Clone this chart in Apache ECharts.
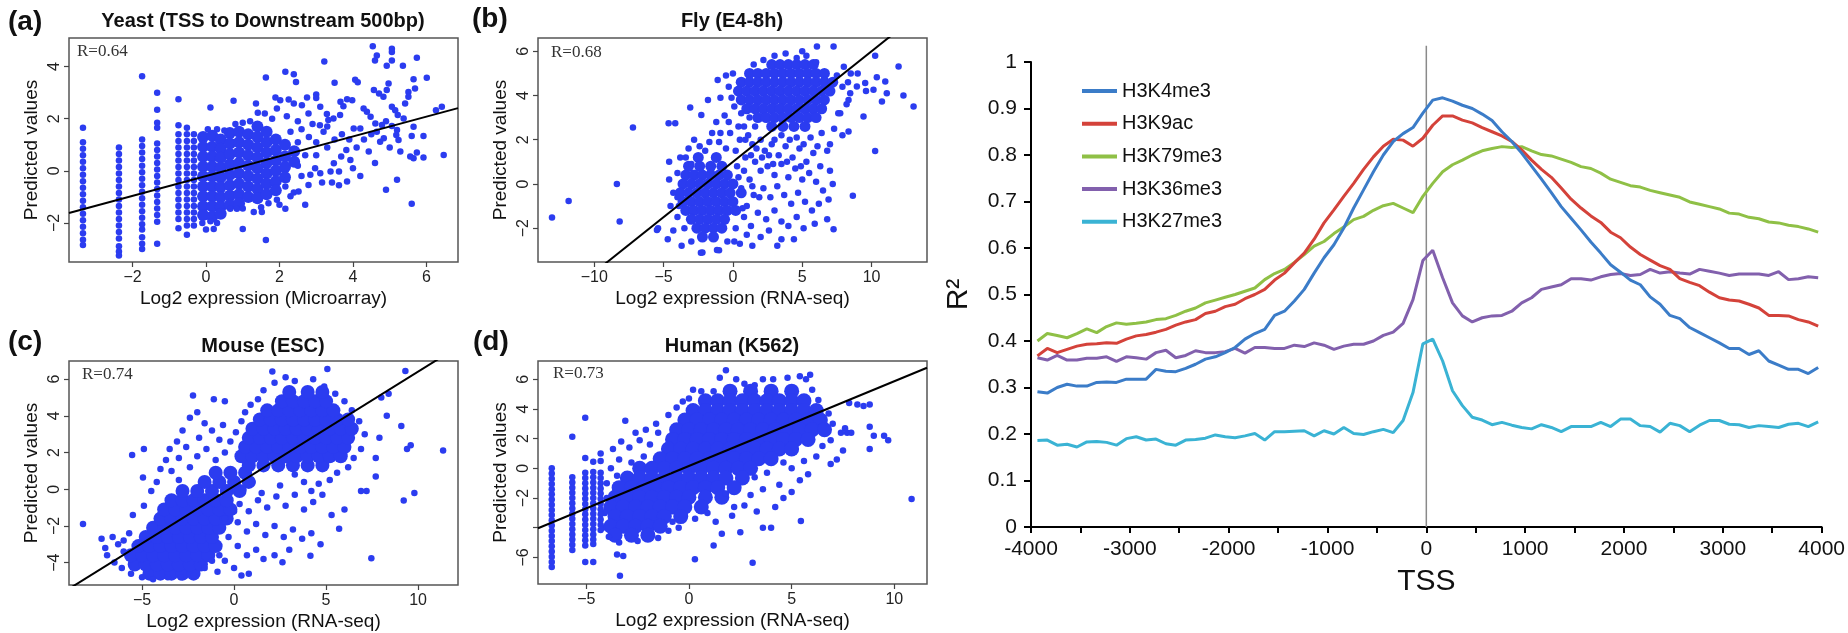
<!DOCTYPE html>
<html><head><meta charset="utf-8">
<script src="https://cdn.jsdelivr.net/npm/echarts@6/dist/echarts.min.js"></script>
<style>html,body{margin:0;padding:0;background:#fff}#c{width:1848px;height:633px}</style>
</head><body><div id="c"></div><script>
// ---------------- DATA ----------------
// Panel (a) Yeast
const yeastStripeX = [-3.35, -2.37, -1.74, -1.33, -0.75, -0.52, -0.33];
const yeastStripeY = [
 [1.65,1.1,0.85,0.6,0.35,0.1,-0.15,-0.4,-0.65,-0.9,-1.15,-1.4,-1.65,-1.9,-2.15,-2.4,-2.65,-2.85],
 [0.9,0.65,0.4,0.15,-0.1,-0.35,-0.6,-0.85,-1.1,-1.35,-1.6,-1.85,-2.1,-2.35,-2.6,-2.9,-3.1,-3.25],
 [3.63,1.2,0.95,0.7,0.45,0.2,-0.05,-0.3,-0.55,-0.8,-1.05,-1.3,-1.55,-1.8,-2.05,-2.25,-2.55,-2.8,-3.0],
 [3.0,2.35,1.85,1.65,1.05,0.8,0.55,0.3,0.05,-0.2,-0.45,-0.7,-0.95,-1.2,-1.45,-1.7,-1.95,-2.8],
 [2.75,1.75,1.4,1.15,0.9,0.65,0.4,0.15,-0.1,-0.35,-0.6,-0.85,-1.1,-1.35,-1.6,-1.85,-2.2],
 [1.65,1.4,1.15,0.9,0.65,0.4,0.15,-0.1,-0.35,-0.6,-0.85,-1.1,-1.35,-1.6,-1.85,-2.1,-2.45],
 [1.4,1.15,0.9,0.65,0.4,0.15,-0.1,-0.35,-0.6,-0.85,-1.1,-1.35,-1.6,-1.85,-2.1]
];
const yeastCore = [[-0.08,1.3],[-0.08,0.92],[-0.08,0.54],[-0.08,0.16],[-0.08,-0.22],[-0.08,-0.6],[-0.08,-0.98],[-0.08,-1.36],[-0.08,-1.7],
[0.17,1.35],[0.17,0.92],[0.17,0.54],[0.17,0.16],[0.17,-0.22],[0.17,-0.6],[0.17,-0.98],[0.17,-1.36],[0.17,-1.75],
[0.4,1.2],[0.4,0.85],[0.4,0.5],[0.4,0.12],[0.4,-0.25],[0.4,-0.62],[0.4,-1.0],[0.4,-1.38],[0.4,-1.65],
[0.65,1.45],[0.65,1.05],[0.65,0.65],[0.65,0.25],[0.65,-0.15],[0.65,-0.55],[0.65,-0.95],[0.65,-1.3],
[0.9,1.5],[0.9,1.1],[0.9,0.7],[0.9,0.3],[0.9,-0.1],[0.9,-0.5],[0.9,-0.9],[0.9,-1.25],
[1.15,1.4],[1.15,1.0],[1.15,0.6],[1.15,0.2],[1.15,-0.2],[1.15,-0.6],[1.15,-1.0],
[1.4,1.7],[1.4,1.3],[1.4,0.9],[1.4,0.5],[1.4,0.1],[1.4,-0.3],[1.4,-0.7],[1.4,-1.05],
[1.65,1.5],[1.65,1.1],[1.65,0.7],[1.65,0.3],[1.65,-0.1],[1.65,-0.5],[1.65,-0.9],
[1.9,1.2],[1.9,0.8],[1.9,0.4],[1.9,0.0],[1.9,-0.4],[1.9,-0.75],
[2.15,1.0],[2.15,0.55],[2.15,0.15],[2.15,-0.25],[2.4,0.75],[2.4,0.35]];
const yeastPts = [[4.54,4.78],[5.06,4.69],[5.06,4.56],[4.65,4.43],[4.6,4.24],[5.06,4.24],[5.74,4.34],[4.92,4.03],[5.36,4.03],[3.22,4.2],[2.16,3.8],[2.39,3.71],[1.63,3.58],[6.01,3.57],[5.65,3.52],[4.06,3.5],[4.13,3.4],[3.5,3.38],[2.45,3.41],[4.57,3.1],[4.71,2.97],[4.92,3.1],[4.83,2.84],[4.97,3.35],[5.51,3.03],[5.69,3.16],[5.51,2.84],[3.0,2.93],[3.0,2.8],[2.75,2.82],[3.84,2.75],[3.98,2.71],[0.75,2.69],[1.36,2.59],[1.89,2.82],[2.02,2.71],[2.25,2.74],[2.39,2.59],[2.61,2.52],[3.66,2.65],[3.74,2.48],[5.42,2.59],[5.06,2.46],[5.15,2.33],[6.26,2.33],[6.42,2.46],[0.12,2.43],[1.41,2.23],[1.93,2.39],[3.11,2.46],[2.79,2.2],[3.29,2.18],[4.38,2.27],[4.29,2.39],[4.48,2.08],[5.22,2.14],[5.38,2.01],[3.33,1.95],[3.47,2.01],[3.65,2.14],[4.02,1.63],[4.2,1.63],[4.61,1.82],[4.79,1.76],[4.65,1.5],[5.06,1.72],[5.2,1.57],[5.65,1.69],[5.92,1.34],[5.6,1.34],[5.24,1.18],[5.18,1.38],[4.84,1.25],[4.74,1.12],[4.43,0.74],[5.29,0.74],[5.56,0.55],[5.74,0.7],[5.92,0.51],[5.65,0.48],[6.47,0.61],[3.93,0.42],[3.82,0.8],[3.68,0.55],[3.48,0.29],[3.39,-0.03],[3.62,-0.03],[3.84,-0.41],[3.43,-0.45],[3.62,-0.55],[3.16,-0.45],[3.11,-0.09],[2.97,0.1],[2.84,-0.15],[2.79,-0.54],[5.2,-0.34],[4.9,-0.73],[5.6,-1.26],[2.16,-1.46],[1.0,-2.23],[1.63,-2.66],[0.21,-2.23],[0.0,-2.25],[0.12,-1.94],[1.3,-1.58],[1.52,-1.58],[0.84,-1.46],[0.66,-1.46],[2.39,-0.83],[2.52,-0.79],[2.3,-0.98],[1.93,-1.11],[1.7,-1.24],[2.16,-0.6],[2.2,-0.34],[2.6,1.6],[2.8,1.3],[3.0,1.1],[3.2,1.5],[2.5,1.1],[2.7,0.6],[3.0,0.6],[3.3,0.9],[3.5,1.2],[3.7,1.4],[3.9,1.2],[2.5,0.2],[2.6,-0.2],[2.9,1.8],[3.1,1.75],[2.3,1.5],[2.5,1.9],[2.2,2.1],[1.8,2.0],[1.6,2.2],[1.2,1.9],[1.0,1.85],[0.8,1.8],[4.1,0.9],[4.3,1.2],[4.0,0.1],[4.2,-0.2],[0.5,1.55],[0.3,1.6],[0.05,1.6],[1.5,-1.4],[1.0,-1.45],[2.7,-1.3],[2.0,-1.3],[3.3,1.7],[4.5,1.4],[4.9,1.9],[5.0,0.9],[4.6,0.3],[0.3,-2.0],[-0.1,-2.0]];
const yeastFit = [-0.2, 0.38];

// Panel (b) Fly
const flyCore = [[2.8,5.4],[3.4,5.4],[4.0,5.4],[4.6,5.4],[5.2,5.4],[5.8,5.4],
[1.2,5.0],[1.8,5.0],[2.4,5.0],[3.0,5.0],[3.6,5.0],[4.2,5.0],[4.8,5.0],[5.4,5.0],[6.0,5.0],[6.6,5.0],
[0.6,4.6],[1.2,4.6],[1.8,4.6],[2.4,4.6],[3.0,4.6],[3.6,4.6],[4.2,4.6],[4.8,4.6],[5.4,4.6],[6.0,4.6],[6.6,4.6],[7.2,4.6],
[0.4,4.2],[1.0,4.2],[1.6,4.2],[2.2,4.2],[2.8,4.2],[3.4,4.2],[4.0,4.2],[4.6,4.2],[5.2,4.2],[5.8,4.2],[6.4,4.2],[7.0,4.2],
[0.6,3.8],[1.2,3.8],[1.8,3.8],[2.4,3.8],[3.0,3.8],[3.6,3.8],[4.2,3.8],[4.8,3.8],[5.4,3.8],[6.0,3.8],[6.6,3.8],
[1.0,3.4],[1.6,3.4],[2.2,3.4],[2.8,3.4],[3.4,3.4],[4.0,3.4],[4.6,3.4],[5.2,3.4],[5.8,3.4],[6.4,3.4],
[1.8,3.0],[2.4,3.0],[3.0,3.0],[3.6,3.0],[4.2,3.0],[4.8,3.0],[5.4,3.0],[6.0,3.0],
[2.8,2.6],[3.6,2.6],[4.4,2.6],[5.2,2.6],
[-2.5,1.2],[-1.2,1.2],[-3.2,0.8],[-2.4,0.8],[-1.6,0.8],[-0.8,0.8],
[-3.4,0.4],[-2.8,0.4],[-2.2,0.4],[-1.6,0.4],[-1.0,0.4],[-0.4,0.4],
[-3.6,0],[-3.0,0],[-2.4,0],[-1.8,0],[-1.2,0],[-0.6,0],[0,0],
[-3.8,-0.4],[-3.2,-0.4],[-2.6,-0.4],[-2.0,-0.4],[-1.4,-0.4],[-0.8,-0.4],[-0.2,-0.4],[0.6,-0.4],
[-3.6,-0.8],[-3.0,-0.8],[-2.4,-0.8],[-1.8,-0.8],[-1.2,-0.8],[-0.6,-0.8],[0,-0.8],
[-3.4,-1.2],[-2.8,-1.2],[-2.2,-1.2],[-1.6,-1.2],[-1.0,-1.2],[-0.4,-1.2],[0.2,-1.2],
[-3.0,-1.6],[-2.4,-1.6],[-1.8,-1.6],[-1.2,-1.6],[-0.6,-1.6],
[-2.6,-2.0],[-2.0,-2.0],[-1.4,-2.0],[-0.8,-2.0],[-2.2,-2.4],[-1.4,-2.4]];
const flyPts = [[0.2,1.5],[0.5,2.0],[0.8,2.6],[1.1,2.2],[1.4,1.8],[0.3,0.8],[0.9,1.2],[1.6,2.6],[2.0,2.0],[1.2,3.0],[0.6,3.2],[-0.2,2.3],[-0.5,1.6],[-1.0,1.9],[-1.5,2.3],[-2.0,1.5],[-1.2,2.8],[-0.6,3.1],[0.1,3.5],[-0.3,2.8],
[2.3,1.5],[2.8,1.8],[3.3,1.3],[3.8,1.7],[4.3,1.2],[4.8,1.6],[5.3,1.0],[5.8,1.4],[6.3,0.8],[2.5,0.8],[3.0,0.4],[3.5,0.9],[4.0,0.3],[4.5,0.7],[5.0,0.2],[5.5,0.5],[6.0,0.1],[6.5,-0.3],[2.2,-0.2],[2.7,-0.6],[3.2,-0.1],[3.7,-0.5],[4.2,-0.9],[4.7,-0.4],[5.2,-0.8],[5.7,-1.2],[6.2,-0.9],[1.5,-0.5],[1.0,-1.0],[1.8,-1.3],[2.4,-1.6],[3.0,-1.2],[3.5,-1.7],[4.0,-1.9],[4.6,-1.5],[5.1,-2.0],[6.9,-0.7],[7.0,0.6],[6.8,1.5],[7.3,2.5],[7.6,3.2],[7.9,2.2],[8.2,3.6],[1.2,0.2],[0.6,-0.2],[2.0,0.6],[1.6,1.0],[0.8,-1.5],[0.2,-2.0],[-0.4,-2.6],[0.5,-2.7],[1.0,-2.3],[1.4,-2.8],
[-1.0,-3.0],[-2.2,-3.1],[-3.0,-2.6],[-3.5,-2.0],[-4.0,-1.5],[-4.5,-1.0],[-4.3,-2.1],[-4.7,-2.5],[-3.7,-2.8],[-4.0,0.5],[-3.8,1.2],[-3.2,1.6],[-2.8,2.0],[-3.0,0.9],[-4.3,-0.4],[-4.6,0.2],[-5.4,-2.0],[-4.6,1.0],[-4.64,2.75],[-4.16,2.75],[-3.08,3.46],[-2.28,3.12],[-1.8,3.8],[-0.9,3.9],[-0.3,4.4],[-0.1,3.9],[-1.1,4.7],[-0.5,4.9],[0.0,5.0],[1.5,5.4],[2.2,5.6],[3.0,5.8],[3.8,5.9],[4.6,5.7],[5.3,5.8],[6.0,5.5],[6.06,6.22],[7.26,6.22],[5.0,6.0],[7.5,4.9],[7.9,4.4],[8.0,5.3],[8.5,5.0],[8.3,4.6],[10.26,5.8],[11.95,5.31],[12.3,4.0],[13.03,3.5],[9.42,3.05],[10.26,1.49],[8.65,-0.53],[7.26,-2.05],[-7.21,2.55],[-8.37,0],[-8.17,-1.7],[-11.85,-0.77],[-13.05,-1.52],[-5.48,-2.08],[-2.31,-3.11],[-1.15,-2.99],[10.38,4.83],[10.14,4.26],[10.75,3.73],[11.1,4.1],[10.99,4.63],[9.54,4.56],[8.94,4.41],[8.46,4.1],[8.34,3.8],[8.34,2.37],[7.74,3.2],[9.6,4.2],[9.0,5.0],[7.0,1.8],[6.4,2.3],[7.2,0.0],[6.8,-1.6],[5.9,-1.8],[3.5,-2.5],[2.0,-2.4],[4.4,-2.5],
[0.4,0.3],[0.8,0.6],[1.3,1.3],[1.7,1.6],[2.1,1.2],[2.6,1.3],[3.0,2.0],[3.5,2.2],[4.1,2.0],[4.6,2.1],[5.1,1.8],[5.6,2.1],[6.1,1.7],[0.9,2.0],[0.4,2.6],[-0.9,2.3],[-1.7,1.9],[-2.4,1.7],[-3.4,1.2],[-4.0,-0.6],[-3.9,-1.0],[1.4,-0.1],[1.9,-0.6],[2.9,0.9],[3.9,1.0],[4.9,0.8],[0.7,-1.1],[1.3,-1.9],[2.6,-2.1],[3.2,-2.8],[0.1,-2.6]];
const flyFit = [1.0, 0.5];

// Panel (c) Mouse
const mouseCore = [[-4.6,-4.6],[-4.0,-4.6],[-3.4,-4.6],[-2.8,-4.6],[-2.2,-4.6],
[-5.4,-4.1],[-4.8,-4.1],[-4.2,-4.1],[-3.6,-4.1],[-3.0,-4.1],[-2.4,-4.1],[-1.8,-4.1],
[-5.6,-3.6],[-5.0,-3.6],[-4.4,-3.6],[-3.8,-3.6],[-3.2,-3.6],[-2.6,-3.6],[-2.0,-3.6],[-1.4,-3.6],
[-5.2,-3.1],[-4.6,-3.1],[-4.0,-3.1],[-3.4,-3.1],[-2.8,-3.1],[-2.2,-3.1],[-1.6,-3.1],[-1.0,-3.1],
[-4.8,-2.6],[-4.2,-2.6],[-3.6,-2.6],[-3.0,-2.6],[-2.4,-2.6],[-1.8,-2.6],[-1.2,-2.6],
[-4.4,-2.1],[-3.8,-2.1],[-3.2,-2.1],[-2.6,-2.1],[-2.0,-2.1],[-1.4,-2.1],[-0.8,-2.1],
[-4.0,-1.6],[-3.4,-1.6],[-2.8,-1.6],[-2.2,-1.6],[-1.6,-1.6],[-1.0,-1.6],[-0.4,-1.6],
[-3.8,-1.1],[-3.2,-1.1],[-2.6,-1.1],[-2.0,-1.1],[-1.4,-1.1],[-0.8,-1.1],[-0.2,-1.1],
[-3.4,-0.6],[-2.8,-0.6],[-2.2,-0.6],[-1.6,-0.6],[-1.0,-0.6],[-0.4,-0.6],
[-2.8,-0.1],[-2.0,-0.1],[-1.2,-0.1],[-0.4,-0.1],[0.3,-0.1],
[-1.6,0.4],[-0.8,0.4],[0.0,0.4],[0.8,0.4],[-1.0,0.9],[-0.2,0.9],[0.6,0.9],
[0.8,1.3],[1.6,1.3],[2.4,1.3],[3.2,1.3],[4.0,1.3],[4.8,1.3],
[0.4,1.8],[1.0,1.8],[1.6,1.8],[2.2,1.8],[2.8,1.8],[3.4,1.8],[4.0,1.8],[4.6,1.8],[5.2,1.8],[5.8,1.8],
[0.6,2.3],[1.2,2.3],[1.8,2.3],[2.4,2.3],[3.0,2.3],[3.6,2.3],[4.2,2.3],[4.8,2.3],[5.4,2.3],[6.0,2.3],
[0.8,2.8],[1.4,2.8],[2.0,2.8],[2.6,2.8],[3.2,2.8],[3.8,2.8],[4.4,2.8],[5.0,2.8],[5.6,2.8],[6.2,2.8],
[1.0,3.3],[1.6,3.3],[2.2,3.3],[2.8,3.3],[3.4,3.3],[4.0,3.3],[4.6,3.3],[5.2,3.3],[5.8,3.3],[6.4,3.3],
[1.4,3.8],[2.0,3.8],[2.6,3.8],[3.2,3.8],[3.8,3.8],[4.4,3.8],[5.0,3.8],[5.6,3.8],[6.2,3.8],
[1.8,4.3],[2.4,4.3],[3.0,4.3],[3.6,4.3],[4.2,4.3],[4.8,4.3],[5.4,4.3],
[2.6,4.8],[3.2,4.8],[3.8,4.8],[4.4,4.8],[5.0,4.8],[3.0,5.3],[4.0,5.3],[4.8,5.3]];
const mousePts = [[-8.21,-1.89],[-5.54,1.87],[-4.9,2.2],[-4.95,0.64],[-2.23,5.11],[-1.1,4.9],[-0.5,4.8],[2.08,6.42],[5.07,6.55],[9.31,6.45],[11.36,2.11],[9.09,3.45],[9.4,2.2],[9.6,2.4],[9.22,-0.62],[9.8,-0.2],[7.46,-3.76],[6.0,-1.1],[5.71,-2.16],[4.15,-3.62],[2.63,-3.98],[0.8,-4.6],[6.9,-0.1],[7.2,-0.1],[7.7,0.7],[8.3,4.0],[8.4,5.2],[8.0,5.0],[7.9,2.8],[7.7,1.7],
[-7.2,-2.7],[-6.9,-3.6],[-6.6,-2.6],[-6.3,-3.0],[-6.0,-3.4],[-6.5,-4.0],[-6.1,-4.3],[-5.7,-2.4],[-6.0,-2.8],[-7.0,-3.2],[-5.6,-4.6],[-5.0,-4.8],[-4.4,-4.9],[-3.6,-4.8],[-2.9,-4.8],[-2.2,-4.7],[-1.6,-4.3],[-1.2,-3.9],[-0.8,-3.6],
[-5.5,-1.4],[-4.9,-0.9],[-4.5,-0.1],[-4.2,0.4],[-4.0,1.1],[-3.7,1.6],[-3.5,2.2],[-3.1,2.6],[-2.8,3.2],[-2.4,3.9],[-2.0,4.2],[-1.6,3.6],[-1.2,3.2],[-0.8,2.7],[-0.6,3.5],[-1.9,2.8],[-2.6,2.3],[-3.0,1.7],[-3.4,1.0],[-3.0,0.5],[-2.4,1.2],[-2.0,1.8],[-1.5,2.2],[-1.0,1.6],[-0.5,2.0],[-0.2,2.6],[0.1,3.1],[0.4,3.7],[0.6,4.2],[0.9,4.6],[1.3,4.9],[1.6,5.4],[2.2,5.8],[2.8,6.1],[3.3,5.9],[4.3,6.0],[4.9,5.6],[5.5,5.2],[6.0,4.8],[6.4,4.3],[6.8,3.7],[7.1,3.0],[6.9,2.2],[6.5,1.7],[6.2,1.2],[5.6,0.9],[5.2,0.5],[4.6,0.3],[4.2,-0.1],[3.8,0.4],[3.3,0.8],
[0.3,-0.8],[0.8,-1.2],[1.3,-0.6],[1.8,-1.0],[2.3,-0.4],[2.8,-0.9],[3.3,-0.3],[3.8,-1.1],[4.3,-0.7],[4.8,-0.3],[5.3,-1.4],[0.2,-1.8],[0.7,-2.3],[1.2,-1.9],[1.7,-2.5],[2.2,-2.0],[2.7,-2.6],[3.2,-2.2],[3.7,-2.7],[4.2,-2.4],[4.7,-3.0],[-0.3,-2.6],[0.2,-3.1],[0.7,-3.6],[1.2,-3.3],[1.6,-3.8],[2.2,-3.6],[3.0,-3.3],[-0.5,-3.9],[0.0,-4.3],[-0.9,-4.5],[0.4,-4.7],[1.5,-0.2],[2.5,0.2],[0.0,-1.2],[-0.5,-1.6],[0.5,0.0],[1.0,0.4]];
const mouseFit = [0.17, 0.624];

// Panel (d) Human
const humanStripeX = [-6.68, -5.68, -5.05, -4.66, -4.3];
const humanStripeY = [
 [0.0,-0.35,-0.7,-1.05,-1.4,-1.75,-2.1,-2.45,-2.8,-3.15,-3.5,-3.85,-4.2,-4.55,-4.9,-5.25,-5.6,-5.95,-6.3,-6.65],
 [2.13,-0.6,-0.95,-1.3,-1.65,-2.0,-2.35,-2.7,-3.05,-3.4,-3.75,-4.1,-4.45,-4.8,-5.15,-5.5],
 [3.4,0.7,-0.3,-0.65,-1.0,-1.35,-1.7,-2.05,-2.4,-2.75,-3.1,-3.45,-3.8,-4.15,-4.5,-4.85,-5.2,-6.3],
 [0.45,-0.25,-0.6,-0.95,-1.3,-1.65,-2.0,-2.35,-2.7,-3.05,-3.4,-3.75,-4.1,-4.45,-4.8,-5.1,-6.3],
 [1.0,0.5,-0.3,-0.65,-1.0,-1.35,-1.7,-2.05,-2.4,-2.75,-3.1,-3.45,-3.8,-4.15]
];
const humanCore = [[2.0,5.2],[3.0,5.2],[4.0,5.2],[5.0,5.2],
[0.8,4.55],[1.4,4.55],[2.0,4.55],[2.6,4.55],[3.2,4.55],[3.8,4.55],[4.4,4.55],[5.0,4.55],[5.6,4.55],
[0.2,3.9],[0.8,3.9],[1.4,3.9],[2.0,3.9],[2.6,3.9],[3.2,3.9],[3.8,3.9],[4.4,3.9],[5.0,3.9],[5.6,3.9],[6.2,3.9],
[-0.2,3.25],[0.4,3.25],[1.0,3.25],[1.6,3.25],[2.2,3.25],[2.8,3.25],[3.4,3.25],[4.0,3.25],[4.6,3.25],[5.2,3.25],[5.8,3.25],[6.4,3.25],
[-0.6,2.6],[0.0,2.6],[0.6,2.6],[1.2,2.6],[1.8,2.6],[2.4,2.6],[3.0,2.6],[3.6,2.6],[4.2,2.6],[4.8,2.6],[5.4,2.6],[6.0,2.6],[6.6,2.6],
[-0.8,1.95],[-0.2,1.95],[0.4,1.95],[1.0,1.95],[1.6,1.95],[2.2,1.95],[2.8,1.95],[3.4,1.95],[4.0,1.95],[4.6,1.95],[5.2,1.95],[5.8,1.95],
[-1.0,1.3],[-0.4,1.3],[0.2,1.3],[0.8,1.3],[1.4,1.3],[2.0,1.3],[2.6,1.3],[3.2,1.3],[3.8,1.3],[4.4,1.3],[5.0,1.3],
[-1.4,0.65],[-0.8,0.65],[-0.2,0.65],[0.4,0.65],[1.0,0.65],[1.6,0.65],[2.2,0.65],[2.8,0.65],[3.4,0.65],[4.0,0.65],
[-2.4,0],[-1.8,0],[-1.2,0],[-0.6,0],[0,0],[0.6,0],[1.2,0],[1.8,0],[2.4,0],[3.0,0],
[-3.0,-0.65],[-2.4,-0.65],[-1.8,-0.65],[-1.2,-0.65],[-0.6,-0.65],[0,-0.65],[0.6,-0.65],[1.2,-0.65],[1.8,-0.65],[2.6,-0.65],
[-3.4,-1.3],[-2.8,-1.3],[-2.2,-1.3],[-1.6,-1.3],[-1.0,-1.3],[-0.4,-1.3],[0.2,-1.3],[0.8,-1.3],[1.4,-1.3],[2.2,-1.3],
[-3.6,-1.95],[-3.0,-1.95],[-2.4,-1.95],[-1.8,-1.95],[-1.2,-1.95],[-0.6,-1.95],[0,-1.95],[0.8,-1.95],[1.6,-1.95],
[-3.8,-2.6],[-3.2,-2.6],[-2.6,-2.6],[-2.0,-2.6],[-1.4,-2.6],[-0.8,-2.6],[-0.2,-2.6],[0.6,-2.6],
[-3.6,-3.25],[-3.0,-3.25],[-2.4,-3.25],[-1.8,-3.25],[-1.2,-3.25],[-0.4,-3.25],
[-3.8,-3.9],[-3.2,-3.9],[-2.6,-3.9],[-2.0,-3.9],[-1.4,-3.9],[-3.6,-4.5],[-2.8,-4.5],[-2.0,-4.5]];
const humanPts = [[10.84,-2.07],[9.7,1.9],[9.5,2.2],[9.0,2.2],[8.8,1.3],[8.8,2.8],[8.5,4.2],[8.8,4.3],[8.2,4.3],[7.8,4.4],[7.7,2.4],[7.6,2.7],[7.4,2.4],[7.9,2.4],[7.2,0.6],[7.5,1.2],[6.9,0.3],[6.5,1.5],[6.9,1.9],[7.0,3.0],[6.8,3.7],[6.3,4.6],[6.0,5.3],[5.7,6.0],[5.4,6.2],[5.9,6.3],[4.8,6.1],[4.1,6.0],[3.6,6.0],[3.2,5.6],[2.7,5.7],[2.3,6.0],[1.8,6.6],[1.5,6.1],[1.2,5.2],[0.6,5.2],[0.2,5.3],[0.0,4.7],[-0.6,4.1],[-0.3,4.5],[-1.0,3.6],[-1.6,3.0],[-2.1,2.6],[-2.6,2.4],[-3.1,3.2],[-3.3,1.8],[-3.7,1.3],[-2.9,1.4],[-2.4,1.9],[-1.9,1.6],[-1.5,2.4],[-2.2,0.8],[-2.8,0.4],[-3.4,0.6],[-3.8,0.0],[-3.5,-0.5],[-4.0,-1.0],[-4.0,-2.0],[-4.1,-3.0],[-4.2,-4.0],[-3.9,-4.6],[-3.4,-5.0],[-2.5,-4.9],[-1.5,-4.7],[-1.0,-4.2],[-0.5,-4.0],[-0.8,-3.6],[0.3,-3.4],[0.9,-3.0],[1.3,-3.6],[1.6,-4.4],[1.2,-5.2],[0.29,-6.13],[3.1,-6.36],[-3.36,-7.24],[-3.2,-5.9],[-3.5,-5.8],[5.45,-3.55],[4.0,-4.0],[3.6,-4.0],[2.5,-4.3],[2.1,-3.2],[2.7,-2.5],[3.3,-2.9],[3.0,-1.8],[3.6,-1.4],[4.2,-2.6],[4.6,-2.0],[4.4,-1.1],[5.0,-1.6],[5.4,-0.8],[5.8,-0.4],[5.0,0.0],[4.6,0.4],[6.2,0.8],[5.6,0.5],[3.8,-0.3],[3.2,-0.6],[2.2,-2.6],[1.8,-1.7]];
const humanFit = [0.16, 0.571];

// Right panel: R^2 vs distance to TSS
const tssPos = [-3935,-3835,-3735,-3635,-3535,-3435,-3335,-3235,-3135,-3035,-2935,-2835,-2735,-2635,-2535,-2435,-2335,-2235,-2135,-2035,-1935,-1835,-1735,-1635,-1535,-1435,-1335,-1235,-1135,-1035,-935,-835,-735,-635,-535,-435,-335,-235,-135,-35,65,165,265,365,465,565,665,765,865,965,1065,1165,1265,1365,1465,1565,1665,1765,1865,1965,2065,2165,2265,2365,2465,2565,2665,2765,2865,2965,3065,3165,3265,3365,3465,3565,3665,3765,3865,3965];
const markNames = ['H3K4me3','H3K9ac','H3K79me3','H3K36me3','H3K27me3'];
const h3k4me3 = [0.291,0.288,0.300,0.307,0.303,0.303,0.311,0.312,0.311,0.318,0.318,0.318,0.339,0.335,0.334,0.341,0.350,0.361,0.366,0.375,0.386,0.404,0.416,0.425,0.455,0.464,0.486,0.511,0.546,0.579,0.607,0.643,0.686,0.725,0.764,0.800,0.829,0.846,0.859,0.890,0.918,0.923,0.916,0.907,0.900,0.888,0.874,0.850,0.829,0.804,0.776,0.748,0.719,0.689,0.664,0.639,0.613,0.589,0.564,0.548,0.531,0.521,0.495,0.479,0.455,0.448,0.429,0.418,0.407,0.396,0.384,0.384,0.371,0.379,0.357,0.348,0.339,0.339,0.330,0.343];
const h3k9ac = [0.368,0.384,0.375,0.382,0.389,0.393,0.394,0.396,0.395,0.404,0.411,0.414,0.419,0.425,0.434,0.441,0.446,0.459,0.464,0.474,0.479,0.491,0.500,0.511,0.531,0.546,0.568,0.589,0.619,0.654,0.682,0.711,0.739,0.769,0.796,0.819,0.834,0.832,0.819,0.836,0.864,0.884,0.884,0.875,0.869,0.859,0.850,0.841,0.829,0.811,0.789,0.769,0.752,0.729,0.705,0.686,0.669,0.655,0.634,0.622,0.602,0.586,0.574,0.562,0.554,0.534,0.526,0.519,0.505,0.493,0.488,0.486,0.479,0.471,0.455,0.455,0.454,0.446,0.441,0.432];
const h3k79me3 = [0.400,0.416,0.412,0.407,0.416,0.426,0.418,0.431,0.439,0.436,0.438,0.441,0.446,0.448,0.455,0.464,0.471,0.482,0.488,0.494,0.500,0.507,0.514,0.532,0.545,0.554,0.569,0.586,0.604,0.614,0.631,0.645,0.661,0.668,0.681,0.691,0.696,0.686,0.676,0.711,0.739,0.764,0.779,0.789,0.800,0.809,0.814,0.818,0.816,0.818,0.809,0.801,0.798,0.791,0.784,0.775,0.771,0.761,0.748,0.741,0.734,0.731,0.724,0.719,0.714,0.709,0.699,0.694,0.689,0.684,0.675,0.673,0.666,0.663,0.656,0.654,0.649,0.646,0.641,0.634];
const h3k36me3 = [0.364,0.359,0.369,0.359,0.359,0.363,0.363,0.366,0.356,0.366,0.364,0.361,0.375,0.380,0.364,0.369,0.379,0.375,0.375,0.377,0.384,0.374,0.386,0.386,0.384,0.384,0.391,0.388,0.396,0.391,0.382,0.389,0.393,0.393,0.400,0.412,0.419,0.438,0.489,0.573,0.595,0.536,0.482,0.454,0.441,0.450,0.454,0.455,0.464,0.482,0.493,0.511,0.516,0.521,0.534,0.534,0.531,0.538,0.543,0.545,0.541,0.543,0.554,0.546,0.549,0.546,0.544,0.554,0.550,0.546,0.541,0.544,0.544,0.544,0.541,0.549,0.532,0.534,0.538,0.536];
const h3k27me3 = [0.186,0.187,0.176,0.178,0.172,0.183,0.184,0.182,0.176,0.190,0.194,0.187,0.189,0.179,0.176,0.187,0.188,0.191,0.198,0.194,0.192,0.196,0.201,0.187,0.205,0.205,0.206,0.207,0.196,0.207,0.200,0.214,0.201,0.199,0.205,0.210,0.203,0.229,0.289,0.394,0.404,0.357,0.293,0.261,0.236,0.230,0.220,0.225,0.219,0.214,0.211,0.220,0.214,0.205,0.216,0.216,0.216,0.225,0.216,0.232,0.232,0.218,0.216,0.204,0.223,0.218,0.205,0.219,0.229,0.229,0.221,0.220,0.214,0.218,0.216,0.214,0.221,0.223,0.216,0.226];
const tssLineY = [0, 1.035];

// Axis ranges / ticks
const xRanges = [[-3.73,6.86],[-14.06,14.0],[-8.97,12.17],[-7.35,11.59]];
const yRanges = [[-3.5,5.1],[-3.53,6.6],[-5.22,6.99],[-7.79,7.23]];
const xTicks = [[-2,0,2,4,6],[-10,-5,0,5,10],[-5,0,5,10],[-5,0,5,10]];
const yTicks = [[-2,0,2,4],[-2,0,2,4,6],[-4,-2,0,2,4,6],[-6,-4,-2,0,2,4,6]];
const yTickLabels = [[-2,0,2,4],[-2,0,2,4,6],[-4,-2,0,2,4,6],[-6,-2,0,2,4,6]];
const panelTitles = ['Yeast (TSS to Downstream 500bp)','Fly (E4-8h)','Mouse (ESC)','Human (K562)'];
const panelLetters = ['(a)','(b)','(c)','(d)'];
const panelR = ['R=0.64','R=0.68','R=0.74','R=0.73'];
const xNames = ['Log2 expression (Microarray)','Log2 expression (RNA-seq)','Log2 expression (RNA-seq)','Log2 expression (RNA-seq)'];

// ---------------- LAYOUT / STYLE ----------------
const FONT = '"Liberation Sans", Arial, sans-serif';
const DOT = '#2b3cf0';
const gridBoxes = [
  {left:69, top:38, width:389, height:224},
  {left:538, top:38, width:389, height:224},
  {left:69, top:361, width:389, height:224},
  {left:538, top:361, width:389, height:223}
];
const coreSizes = [12, 11, 14, 15];
const letterPos = [[8,22],[472,19],[8,342],[473,342]];
const titlePos = [[263,21],[732,21],[263,346],[732,346]];
const rPos = [[77,52],[551,53],[82,375],[553,374]];
const markColors = ['#3b7cc8','#d4423a','#8fc046','#8260ad','#3ab3d4'];

const minus = v => (v < 0 ? '\u2212' + Math.abs(v) : String(v));

function stripes(xs, ys){ const out=[]; xs.forEach((x,i)=>ys[i].forEach(y=>out.push([x,y]))); return out; }
const coreSets = [yeastCore, flyCore, mouseCore, humanCore];
const ptSets = [yeastPts.concat(stripes(yeastStripeX, yeastStripeY)), flyPts, mousePts, humanPts.concat(stripes(humanStripeX, humanStripeY))];
const fits = [yeastFit, flyFit, mouseFit, humanFit];

const grids = [], xAxes = [], yAxes = [], series = [], graphics = [];
for (let i = 0; i < 4; i++) {
  grids.push(Object.assign({show:true, borderColor:'#555', borderWidth:1.5, backgroundColor:'transparent', containLabel:false}, gridBoxes[i]));
  xAxes.push({gridIndex:i, type:'value', min:xRanges[i][0], max:xRanges[i][1],
    axisLine:{show:false, onZero:false}, splitLine:{show:false},
    axisTick:{show:true, customValues:xTicks[i], length:5, lineStyle:{color:'#444', width:1.2}},
    axisLabel:{customValues:xTicks[i], formatter:minus, fontSize:16, color:'#222', margin:8, fontFamily:FONT},
    name:xNames[i], nameLocation:'middle', nameGap:27, nameTextStyle:{fontSize:19, color:'#111', fontFamily:FONT}});
  yAxes.push({gridIndex:i, type:'value', min:yRanges[i][0], max:yRanges[i][1],
    axisLine:{show:false, onZero:false}, splitLine:{show:false},
    axisTick:{show:true, customValues:yTicks[i], length:5, lineStyle:{color:'#444', width:1.2}},
    axisLabel:{customValues:yTickLabels[i], formatter:minus, rotate:90, fontSize:16, color:'#222', margin:6, fontFamily:FONT},
    name:'Predicted values', nameLocation:'middle', nameGap:28, nameTextStyle:{fontSize:19, color:'#111', fontFamily:FONT}});
  series.push({type:'scatter', xAxisIndex:i, yAxisIndex:i, data:coreSets[i], symbolSize:coreSizes[i], itemStyle:{color:DOT, opacity:1}, z:2, silent:true});
  series.push({type:'scatter', xAxisIndex:i, yAxisIndex:i, data:ptSets[i], symbolSize:6.5, itemStyle:{color:DOT, opacity:1}, z:2, silent:true});
  const [a,b] = fits[i]; const x0 = xRanges[i][0], x1 = xRanges[i][1];
  series.push({type:'line', xAxisIndex:i, yAxisIndex:i, data:[[x0, a+b*x0],[x1, a+b*x1]], showSymbol:false, clip:true,
    lineStyle:{color:'#000', width:2}, z:4, silent:true});
  graphics.push({type:'text', x:letterPos[i][0], y:letterPos[i][1], style:{text:panelLetters[i], font:'bold 28px '+FONT, fill:'#111', align:'left', verticalAlign:'middle', textAlign:'left', textVerticalAlign:'middle'}});
  graphics.push({type:'text', x:titlePos[i][0], y:titlePos[i][1], style:{text:panelTitles[i], font:'bold 20px '+FONT, fill:'#111', align:'center', verticalAlign:'middle', textAlign:'center', textVerticalAlign:'middle'}});
  graphics.push({type:'text', x:rPos[i][0], y:rPos[i][1], style:{text:panelR[i], font:'17px "Liberation Serif", "Times New Roman", serif', fill:'#333', align:'left', verticalAlign:'middle', textAlign:'left', textVerticalAlign:'middle'}});
}

// Right line chart
grids.push({left:1031, top:62, width:797, height:465, show:false});
xAxes.push({gridIndex:4, type:'value', min:-4000, max:4000, interval:500,
  axisLine:{show:true, onZero:false, lineStyle:{color:'#000', width:2}}, splitLine:{show:false},
  axisTick:{show:true, length:6, lineStyle:{color:'#000', width:2}},
  axisLabel:{formatter:v => (v % 1000 === 0 ? String(v) : ''), fontSize:21, color:'#111', margin:12, fontFamily:FONT},
  name:'TSS', nameLocation:'middle', nameGap:40, nameTextStyle:{fontSize:30, color:'#111', fontFamily:FONT}});
yAxes.push({gridIndex:4, type:'value', min:0, max:1, interval:0.1,
  axisLine:{show:true, onZero:false, lineStyle:{color:'#000', width:2}}, splitLine:{show:false},
  axisTick:{show:true, length:7, lineStyle:{color:'#000', width:2}},
  axisLabel:{formatter:v => (v === 0 ? '0' : (Math.abs(v-1) < 1e-9 ? '1' : v.toFixed(1))), fontSize:21, color:'#111', margin:14, fontFamily:FONT},
  name:'R\u00B2', nameLocation:'middle', nameGap:57, nameRotate:90, nameTextStyle:{fontSize:30, color:'#111', fontFamily:FONT}});
series.push({type:'line', name:'tss', xAxisIndex:4, yAxisIndex:4, data:tssLineY.map(y => [0, y]), showSymbol:false, clip:false,
  lineStyle:{color:'#8a8a8a', width:1.5}, z:1, silent:true});
const markData = [h3k4me3, h3k9ac, h3k79me3, h3k36me3, h3k27me3];
markData.forEach((arr, k) => {
  series.push({type:'line', name:markNames[k], xAxisIndex:4, yAxisIndex:4,
    data:arr.map((v, j) => [tssPos[j], v]), showSymbol:false, color:markColors[k],
    lineStyle:{color:markColors[k], width:3}, z:3 + (markData.length - k) * 0.01, silent:true});
});

const chart = echarts.init(document.getElementById('c'), null, {renderer:'canvas'});
chart.setOption({
  animation:false,
  backgroundColor:'#fff',
  grid:grids, xAxis:xAxes, yAxis:yAxes, series:series,
  legend:{data:markNames, orient:'vertical', left:1077, top:76, itemWidth:35, itemHeight:4, itemGap:12.7, icon:'rect',
    textStyle:{fontSize:20, color:'#111', fontFamily:FONT}, selectedMode:false},
  graphic:graphics
});
</script></body></html>
